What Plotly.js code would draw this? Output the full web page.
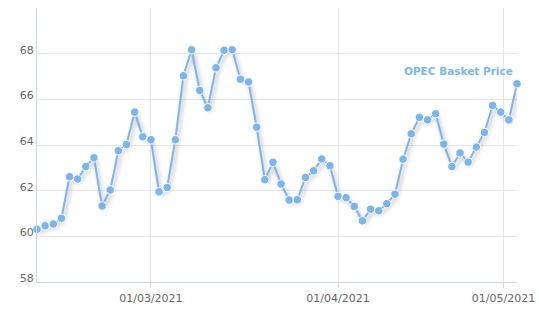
<!DOCTYPE html>
<html><head><meta charset="utf-8">
<script src="https://cdn.plot.ly/plotly-3.0.1.min.js"></script>
<style>
html,body{margin:0;padding:0;background:#fff;}
#chart{width:539px;height:321px;}
.scatterlayer .trace .js-line{filter:drop-shadow(2px 3px 2px rgba(0,0,0,0.3));}
</style></head><body><div id="chart"></div>
<script>
const dates = [
 '2021-02-09','2021-02-10','2021-02-11','2021-02-12',
 '2021-02-15','2021-02-16','2021-02-17','2021-02-18','2021-02-19',
 '2021-02-22','2021-02-23','2021-02-24','2021-02-25','2021-02-26',
 '2021-03-01','2021-03-02','2021-03-03','2021-03-04','2021-03-05',
 '2021-03-08','2021-03-09','2021-03-10','2021-03-11','2021-03-12',
 '2021-03-15','2021-03-16','2021-03-17','2021-03-18','2021-03-19',
 '2021-03-22','2021-03-23','2021-03-24','2021-03-25','2021-03-26',
 '2021-03-29','2021-03-30','2021-03-31','2021-04-01',
 '2021-04-05','2021-04-06','2021-04-07','2021-04-08','2021-04-09',
 '2021-04-12','2021-04-13','2021-04-14','2021-04-15','2021-04-16',
 '2021-04-19','2021-04-20','2021-04-21','2021-04-22','2021-04-23',
 '2021-04-26','2021-04-27','2021-04-28','2021-04-29','2021-04-30',
 '2021-05-03','2021-05-04'
];
const prices = [
 60.31,60.46,60.54,60.79,
 62.61,62.51,63.06,63.44,61.33,
 62.03,63.75,64.02,65.44,64.36,
 64.23,61.95,62.14,64.23,67.03,
 68.17,66.39,65.63,67.38,68.15,
 68.17,66.88,66.76,64.78,62.48,
 63.24,62.29,61.59,61.60,62.58,
 62.87,63.39,63.09,61.75,
 61.69,61.31,60.68,61.19,61.12,
 61.43,61.85,63.38,64.49,65.21,
 65.10,65.37,64.04,63.06,63.65,
 63.25,63.91,64.55,65.73,65.44,
 65.10,66.68
];
const tickDates = ['2021-03-01','2021-04-01','2021-05-01'];
const tickLabels = ['01/03/2021','01/04/2021','01/05/2021'];
const yTicks = [58,60,62,64,66,68,70];
const yTickLabels = ['58','60','62','64','66','68',''];
const seriesName = 'OPEC Basket Price';

const times = dates.map(d => Date.parse(d));
function ordinalPos(d){
  const t = Date.parse(d);
  for(let i=0;i<times.length-1;i++){
    if(t>=times[i] && t<=times[i+1]) return i + (t-times[i])/(times[i+1]-times[i]);
  }
  return t < times[0] ? 0 : times.length-1;
}
const xIdx = dates.map((d,i)=>i);
const tickPos = tickDates.map(ordinalPos);

const trace = {
  x: xIdx, y: prices, type:'scatter', mode:'lines+markers', name: seriesName,
  line:{color:'#7cb5ec', width:2},
  marker:{color:'#7cb5ec', size:8.5, line:{color:'#ffffff', width:1}},
  cliponaxis:false, hoverinfo:'skip'
};
const font = {family:'"DejaVu Sans", Verdana, sans-serif', size:11, color:'#666666'};
const layout = {
  width:539, height:321,
  margin:{l:37, r:22, t:8, b:39},
  paper_bgcolor:'#ffffff', plot_bgcolor:'#ffffff',
  showlegend:false, font: font,
  xaxis:{
    range:[0, dates.length-1], tickmode:'array', tickvals: tickPos, ticktext: tickLabels,
    showgrid:true, gridcolor:'#e6e6e6', gridwidth:1, zeroline:false,
    showline:true, linecolor:'#ccd6eb', linewidth:1,
    ticks:'outside', ticklen:5, tickcolor:'#ccd6eb', tickfont:font,
    ticklabelstandoff:1
  },
  yaxis:{
    range:[58,70], tickmode:'array', tickvals:yTicks, ticktext:yTickLabels,
    showgrid:true, gridcolor:'#e6e6e6', gridwidth:1, zeroline:false,
    showline:true, linecolor:'#ccd6eb', linewidth:1, ticks:'', tickfont:font,
    ticklabelshift:-4
  },
  annotations:[{
    text: seriesName, xref:'paper', yref:'paper', x:0.996, y:0.77,
    xanchor:'right', yanchor:'middle', showarrow:false,
    font:{family:'"DejaVu Sans", Verdana, sans-serif', size:10.5, color:'#7cb5ec', weight:'bold'}
  }]
};
Plotly.newPlot('chart',[trace],layout,{displayModeBar:false, staticPlot:true});
</script></body></html>
